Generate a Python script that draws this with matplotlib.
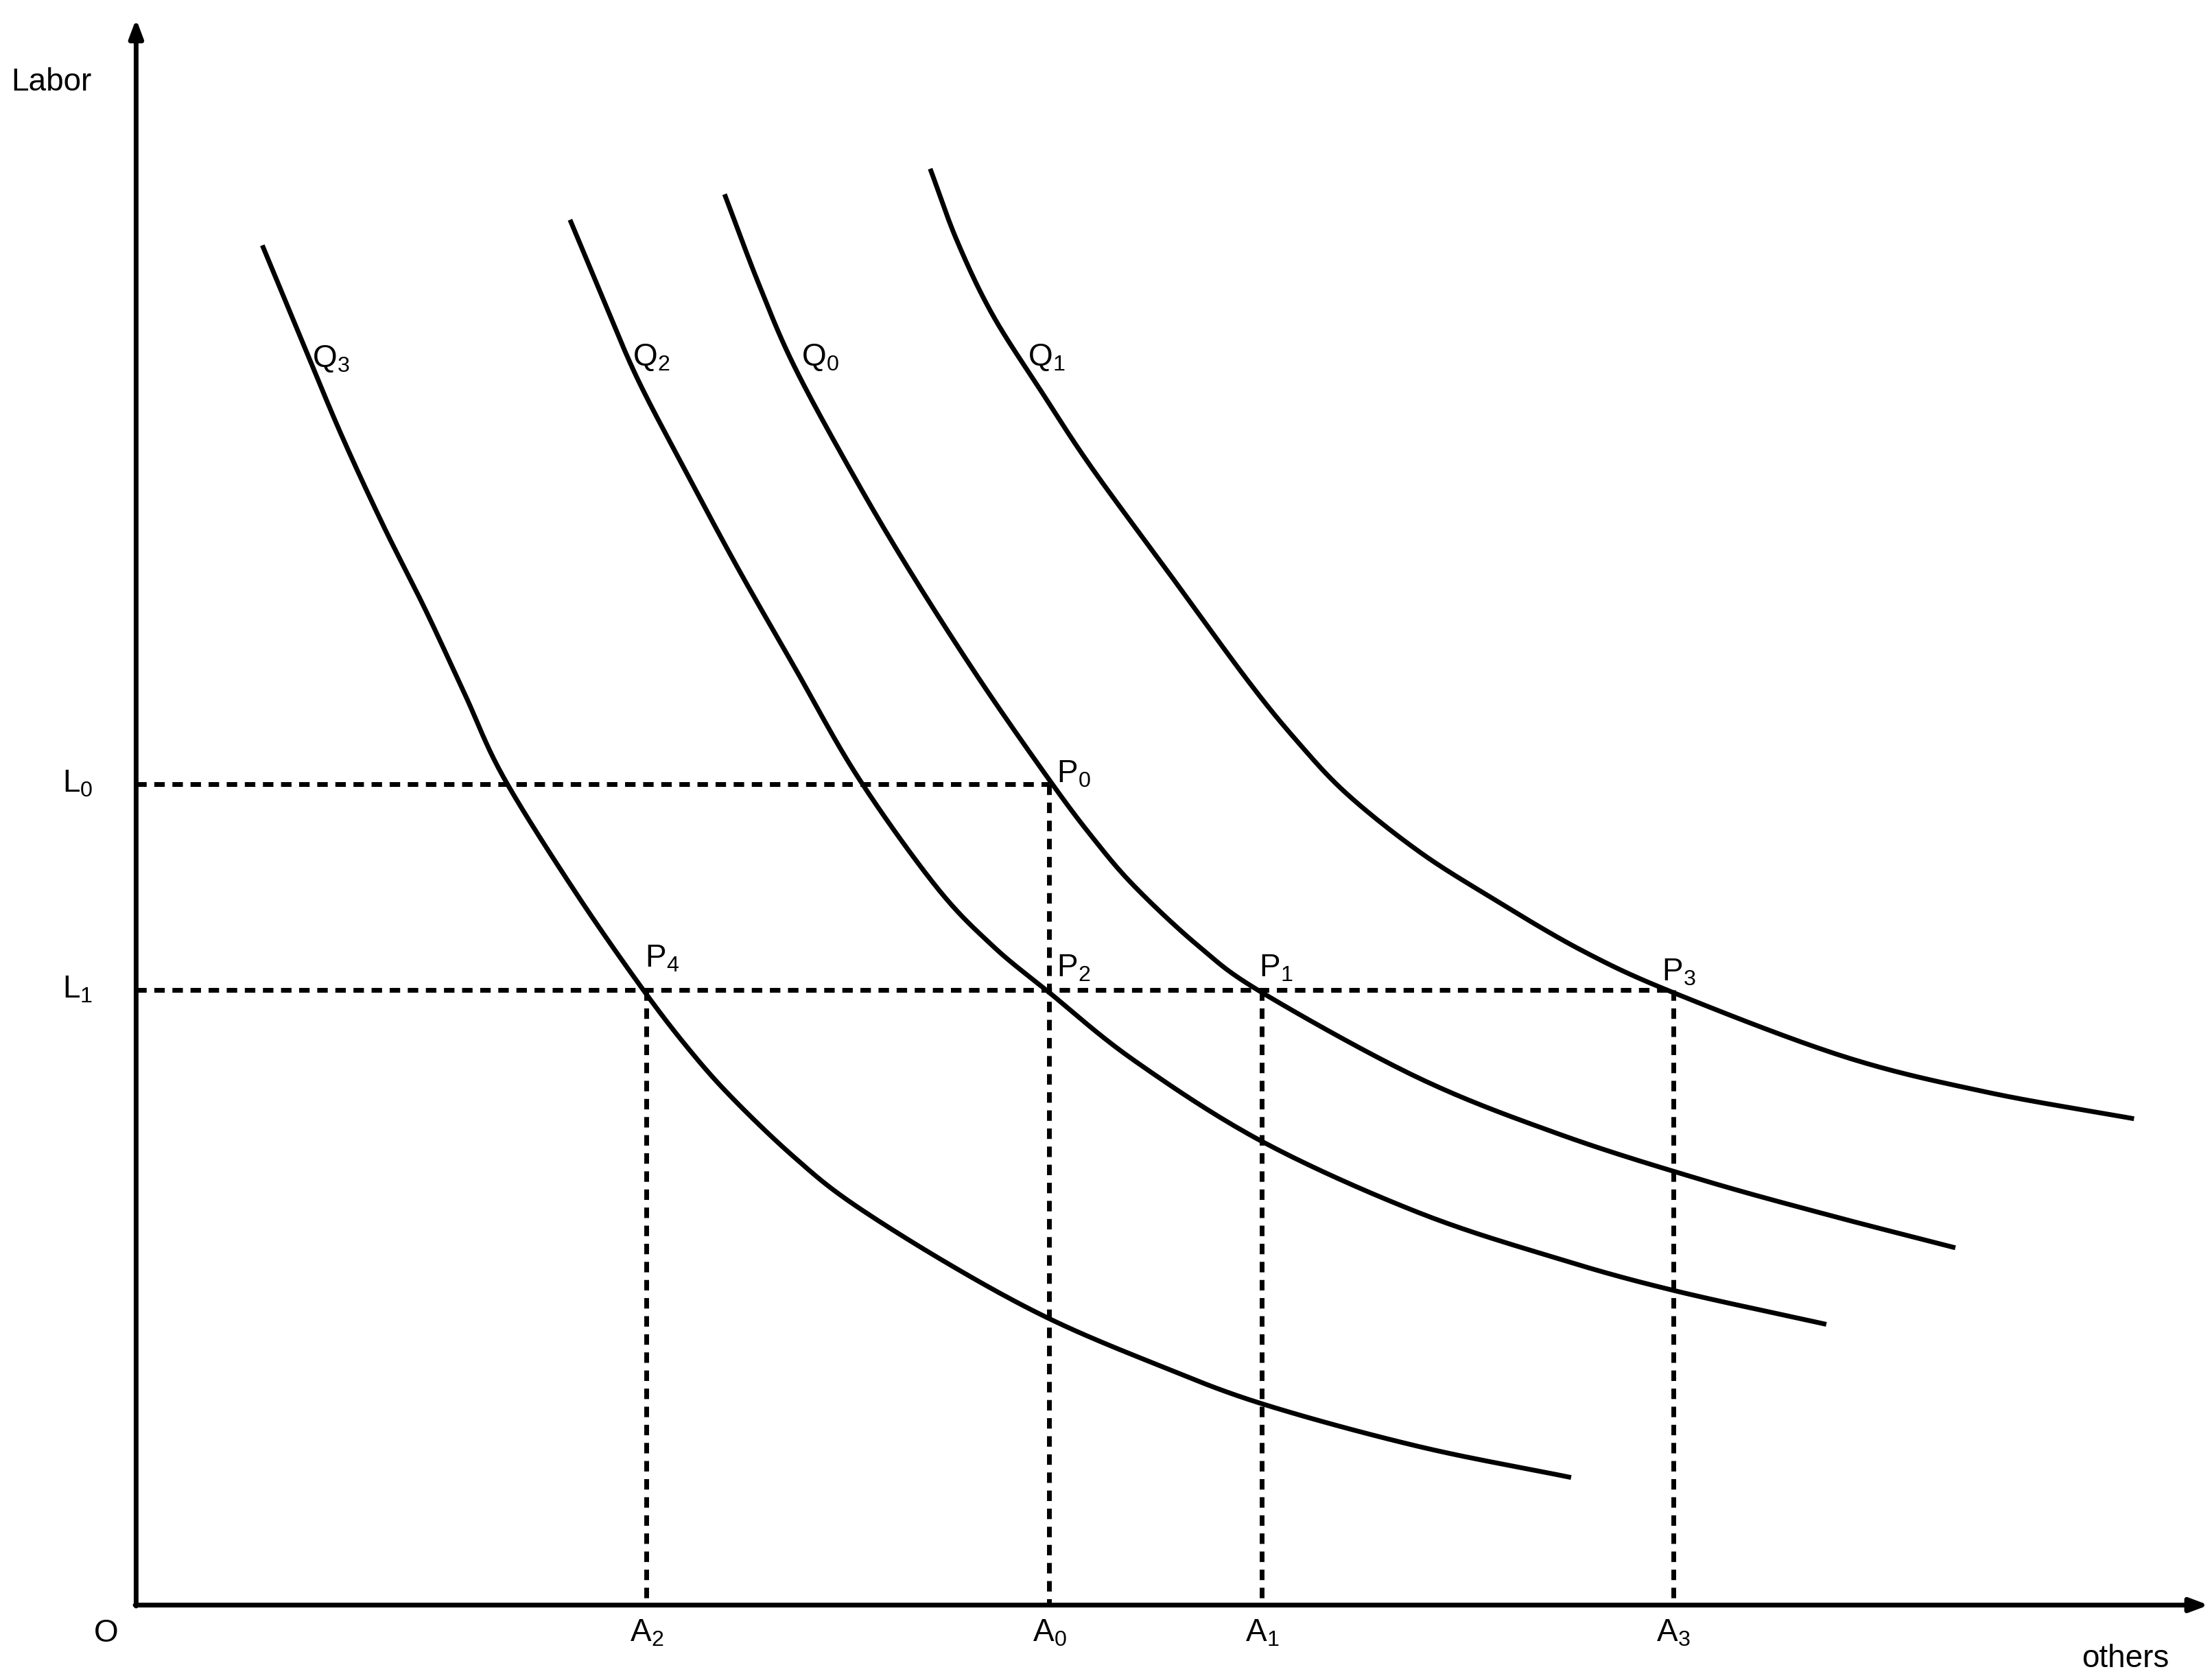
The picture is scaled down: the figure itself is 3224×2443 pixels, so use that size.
import matplotlib
matplotlib.use("Agg")
import matplotlib.pyplot as plt
import numpy as np

plt.rcParams['font.family'] = ['Liberation Sans', 'DejaVu Sans']
plt.rcParams['mathtext.fontset'] = 'custom'
plt.rcParams['mathtext.rm'] = 'Liberation Sans'
plt.rcParams['mathtext.it'] = 'Liberation Sans'

# curves (x, y) in diagram units (y measured downward from top)
q3_x = [185, 212, 240, 270, 300, 328, 355, 405, 455, 490, 520, 560, 600, 670, 740, 815, 890, 1000, 1108]
q3_y = [173, 238, 305, 370, 430, 490, 548, 628, 700, 745, 778, 816, 848, 892, 930, 962, 990, 1020, 1042]
q2_x = [402, 425, 450, 485, 520, 560, 605, 660, 700, 740, 800, 890, 1000, 1100, 1180, 1288]
q2_y = [155, 210, 268, 335, 400, 470, 548, 625, 667, 700, 748, 805, 855, 888, 910, 934]
q0_x = [511, 535, 560, 600, 640, 690, 740, 770, 800, 845, 890, 1000, 1100, 1200, 1290, 1379]
q0_y = [137, 200, 258, 332, 400, 478, 550, 590, 625, 667, 700, 760, 800, 832, 857, 880]
q1_x = [656, 675, 700, 735, 770, 825, 880, 915, 950, 1000, 1050, 1115, 1180, 1300, 1400, 1505]
q1_y = [119, 170, 222, 277, 330, 405, 480, 523, 560, 600, 632, 670, 700, 745, 770, 789]

L_levels = [553, 698]
L_labels = ['L$_0$', 'L$_1$']
A_pos = [456, 740, 890, 1180]
A_labels = ['A$_2$', 'A$_0$', 'A$_1$', 'A$_3$']


def smooth(xs, ys, n=20):
    p = np.column_stack([xs, ys]).astype(float)
    p = np.vstack([2 * p[0] - p[1], p, 2 * p[-1] - p[-2]])
    out = []
    t = np.linspace(0, 1, n, endpoint=False)[:, None]
    for i in range(1, len(p) - 2):
        p0, p1, p2, p3 = p[i - 1], p[i], p[i + 1], p[i + 2]
        seg = 0.5 * ((2 * p1) + (-p0 + p2) * t + (2 * p0 - 5 * p1 + 4 * p2 - p3) * t ** 2
                     + (-p0 + 3 * p1 - 3 * p2 + p3) * t ** 3)
        out.append(seg)
    out.append(p[-2][None, :])
    out = np.vstack(out)
    return out[:, 0], out[:, 1]


fig = plt.figure(figsize=(32.24, 24.43), dpi=100)
ax = fig.add_axes([0, 0, 1, 1])
ax.set_xlim(0, 1560)
ax.set_ylim(1182, 0)
ax.axis('off')

lw = 5
for xs, ys in [(q3_x, q3_y), (q2_x, q2_y), (q0_x, q0_y), (q1_x, q1_y)]:
    sx, sy = smooth(xs, ys)
    ax.plot(sx, sy, color='black', lw=lw, solid_capstyle='butt')

# axes arrows
ax.annotate('', xy=(96, 12), xytext=(96, 1134), annotation_clip=False,
            arrowprops=dict(arrowstyle='-|>,head_length=1.6,head_width=0.6', lw=lw, color='black'))
ax.annotate('', xy=(1559, 1132), xytext=(94, 1132), annotation_clip=False,
            arrowprops=dict(arrowstyle='-|>,head_length=1.6,head_width=0.6', lw=lw, color='black'))

dash = dict(color='black', lw=lw, ls=(0, (2.2, 1.6)))
ax.plot([96, 740], [L_levels[0]] * 2, **dash)
ax.plot([96, 1180], [L_levels[1]] * 2, **dash)
ax.plot([740, 740], [L_levels[0], 1132], **dash)
for x in [456, 890, 1180]:
    ax.plot([x, x], [L_levels[1], 1132], **dash)

fs = 33
ax.text(8, 58, 'Labor', fontsize=fs, va='center')
ax.text(1468, 1170, 'others', fontsize=fs, va='center')
ax.text(66, 1152, 'O', fontsize=fs, va='center')
for y, lab in zip(L_levels, L_labels):
    ax.text(44, y, lab, fontsize=fs, va='center')
for x, lab in zip(A_pos, A_labels):
    ax.text(x, 1152, lab, fontsize=fs, va='center', ha='center')

for x, y, lab in [(220, 253, 'Q$_3$'), (446, 252, 'Q$_2$'), (565, 252, 'Q$_0$'), (725, 252, 'Q$_1$'),
                  (745, 546, 'P$_0$'), (455, 676, 'P$_4$'), (745, 683, 'P$_2$'),
                  (888, 683, 'P$_1$'), (1172, 686, 'P$_3$')]:
    ax.text(x, y, lab, fontsize=fs, va='center')

fig.savefig('out.png', dpi=100, facecolor='white')
